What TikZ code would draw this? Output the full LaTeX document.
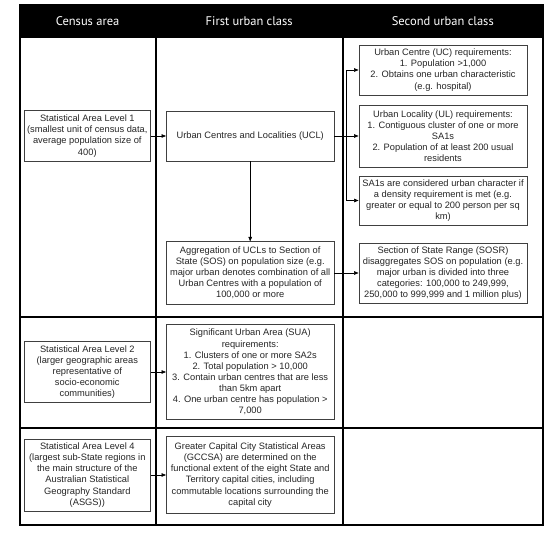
\documentclass[tikz,border=0pt]{standalone}
\usepackage{fontspec}
\setmainfont{Liberation Sans}
\newfontfamily\headfont{PT Sans}
\usetikzlibrary{arrows.meta}
\tikzset{
  grid/.style={line width=2pt, black},
  headtext/.style={text=white, font=\headfont\fontsize{12.5}{14}\selectfont, inner sep=0pt},
  box/.style={draw=black!75, line width=0.8pt, align=center, inner sep=0pt,
              font=\fontsize{9.3}{11.1}\selectfont, text=black!85},
  colA/.style={box, minimum width=126.7pt},
  colB/.style={box, minimum width=167.5pt},
  colC/.style={box, minimum width=168pt},
  arr/.style={-{Triangle[length=4.5pt,width=3.5pt]}, line width=0.6pt, black},
}
\begin{document}
\begin{tikzpicture}[x=1pt,y=-1pt]
\useasboundingbox[fill=white] (0,0) rectangle (558,534);
% table
\fill[black] (19.5,5) rectangle (543,38);
\draw[grid] (19.5,5) rectangle (543,525);
\draw[grid] (155.7,38) -- (155.7,525);
\draw[grid] (342.7,38) -- (342.7,525);
\draw[grid] (19.5,317) -- (543,317);
\draw[grid] (19.5,428) -- (543,428);
\node[headtext] (h1) at (87.6,21.5) {Census area};
\node[headtext] (h2) at (249.2,21.5) {First urban class};
\node[headtext] (h3) at (442.8,21.5) {Second urban class};
% column 1
\node[colA, minimum height=50.7pt] (SA1) at (87.3,136) {Statistical Area Level 1\\(smallest unit of census data,\\average population size of\\400)};
\node[colA, minimum height=60.6pt] (SA2) at (87.3,372) {Statistical Area Level 2\\(larger geographic areas\\representative of\\socio-economic\\communities)};
\node[colA, minimum height=72pt] (SA4) at (87.3,475) {Statistical Area Level 4\\(largest sub-State regions in\\the main structure of the\\Australian Statistical\\Geography Standard\\(ASGS))};
% column 2
\node[colB, minimum height=50pt] (UCL) at (250.2,136) {Urban Centres and Localities (UCL)};
\node[colB, minimum height=62.3pt] (AGG) at (250.2,273) {Aggregation of UCLs to Section of\\State (SOS) on population size (e.g.\\major urban denotes combination of all\\Urban Centres with a population of\\100,000 or more};
\node[colB, minimum height=94.3pt] (SUA) at (250.2,372) {Significant Urban Area (SUA)\\requirements:\\1. Clusters of one or more SA2s\\2. Total population > 10,000\\3. Contain urban centres that are less\\than 5km apart\\4. One urban centre has population >\\7,000};
\node[colB, minimum height=76.6pt] (GCCSA) at (250.2,475) {Greater Capital City Statistical Areas\\(GCCSA) are determined on the\\functional extent of the eight State and\\Territory capital cities, including\\commutable locations surrounding the\\capital city};
% column 3
\node[colC, minimum height=50pt] (UC) at (443,70) {Urban Centre (UC) requirements:\\1. Population >1,000\\2. Obtains one urban characteristic\\(e.g. hospital)};
\node[colC, minimum height=62pt] (UL) at (443,136) {Urban Locality (UL) requirements:\\1. Contiguous cluster of one or more\\SA1s\\2. Population of at least 200 usual\\residents};
\node[colC, minimum height=49pt] (SA1s) at (443,200.5) {SA1s are considered urban character if\\a density requirement is met (e.g.\\greater or equal to 200 person per sq\\km)};
\node[colC, minimum height=60pt] (SOSR) at (443,273) {Section of State Range (SOSR)\\disaggregates SOS on population (e.g.\\major urban is divided into three\\categories: 100,000 to 249,999,\\250,000 to 999,999 and 1 million plus)};
% connectors
\draw[arr] (SA1) -- (UCL);
\draw[arr] (UCL) -- (AGG);
\draw[arr] (UCL) -- (UL);
\coordinate (bus) at (346.5,136);
\draw[arr] (bus) |- (UC.west);
\draw[arr] (bus) |- (SA1s.west);
\draw[arr] (AGG) -- (SOSR);
\draw[arr] (SA2) -- (SUA);
\draw[arr] (SA4) -- (GCCSA);
\end{tikzpicture}
\end{document}
